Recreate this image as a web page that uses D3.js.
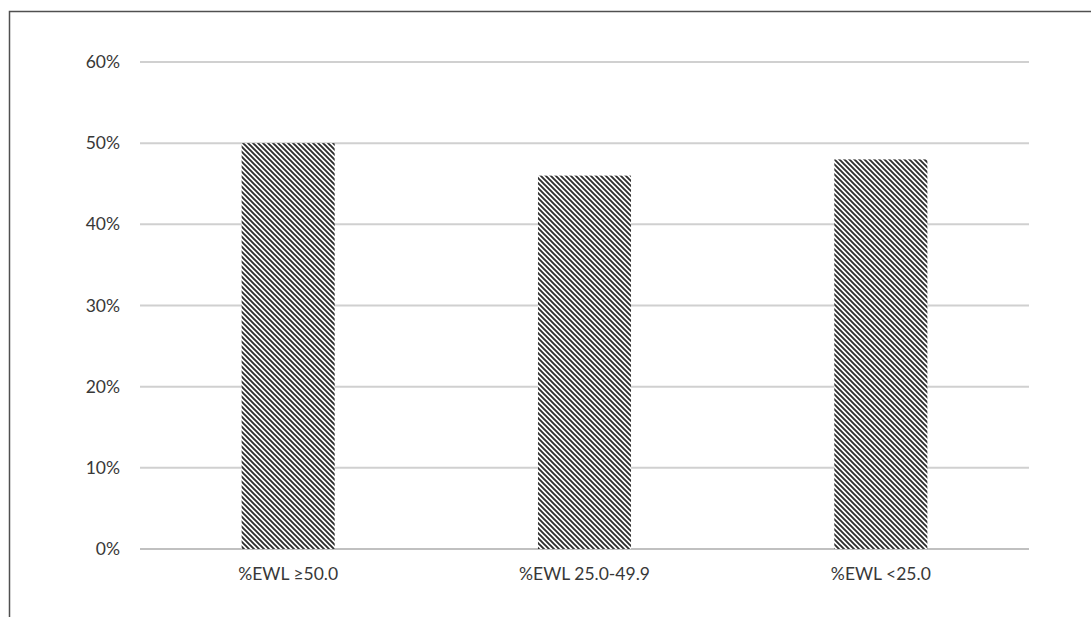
<!DOCTYPE html>
<html>
<head>
<meta charset="utf-8">
<script src="https://cdn.jsdelivr.net/npm/d3@7/dist/d3.min.js"></script>
<style>
  html, body { margin: 0; padding: 0; background: #fff; }
  svg { display: block; }
  text { font-family: Lato, "Open Sans", sans-serif; fill: #383838; }
</style>
</head>
<body>
<svg id="chart" width="1091" height="617"></svg>
<script>
// Share of patients by excess-weight-loss group
const categories = ["%EWL \u226550.0", "%EWL 25.0-49.9", "%EWL <25.0"];
const values = [50, 46, 48];
const tickValues = [0, 10, 20, 30, 40, 50, 60];
const tickLabels = ["0%", "10%", "20%", "30%", "40%", "50%", "60%"];

const W = 1091, H = 617;
const plot = { left: 140, right: 1029, top: 62, bottom: 549 };
const labelFont = "Lato, 'Open Sans', sans-serif";
const labelSize = 17.5;

const svg = d3.select("#chart");

// Diagonal hatch used to fill the bars
const defs = svg.append("defs");
const pat = defs.append("pattern")
  .attr("id", "hatch")
  .attr("patternUnits", "userSpaceOnUse")
  .attr("width", 5).attr("height", 5);
pat.append("rect").attr("width", 5).attr("height", 5).attr("fill", "#fff");
pat.append("path")
  .attr("d", "M-1,-1 L6,6 M-1,4 L1,6 M4,-1 L6,1")
  .attr("stroke", "#2e2e2e")
  .attr("stroke-width", 1.9);

// Outer frame (left and top edges)
svg.append("path")
  .attr("d", `M9.5,${H} L9.5,11.5 L${W},11.5`)
  .attr("fill", "none")
  .attr("stroke", "#505050")
  .attr("stroke-width", 1.5);

const x = d3.scaleBand()
  .domain(categories)
  .range([plot.left, plot.right])
  .paddingInner(0.686)
  .paddingOuter(0.343);

const y = d3.scaleLinear()
  .domain([0, 60])
  .range([plot.bottom, plot.top]);

// Horizontal gridlines
svg.append("g")
  .selectAll("line")
  .data(tickValues)
  .join("line")
  .attr("x1", plot.left).attr("x2", plot.right)
  .attr("y1", d => y(d)).attr("y2", d => y(d))
  .attr("stroke", d => d === 0 ? "#c0c0c0" : "#d0d0d0")
  .attr("stroke-width", 2);

// Y axis labels
const yAxis = d3.axisLeft(y)
  .tickValues(tickValues)
  .tickFormat((d, i) => tickLabels[i])
  .tickSize(0)
  .tickPadding(20);
const gy = svg.append("g")
  .attr("transform", `translate(${plot.left},0)`)
  .call(yAxis);
gy.select(".domain").remove();
gy.selectAll("text")
  .attr("font-size", labelSize)
  .style("font-family", labelFont)
  .attr("fill", "#383838");

// Bars
svg.append("g")
  .selectAll("rect")
  .data(values)
  .join("rect")
  .attr("x", (d, i) => x(categories[i]))
  .attr("width", x.bandwidth())
  .attr("y", d => y(d))
  .attr("height", d => y(0) - y(d))
  .attr("fill", "url(#hatch)");

// X axis labels
const xAxis = d3.axisBottom(x).tickSize(0).tickPadding(19);
const gx = svg.append("g")
  .attr("transform", `translate(0,${plot.bottom})`)
  .call(xAxis);
gx.select(".domain").remove();
gx.selectAll("text")
  .attr("font-size", labelSize)
  .style("font-family", labelFont)
  .attr("fill", "#383838");
</script>
</body>
</html>
